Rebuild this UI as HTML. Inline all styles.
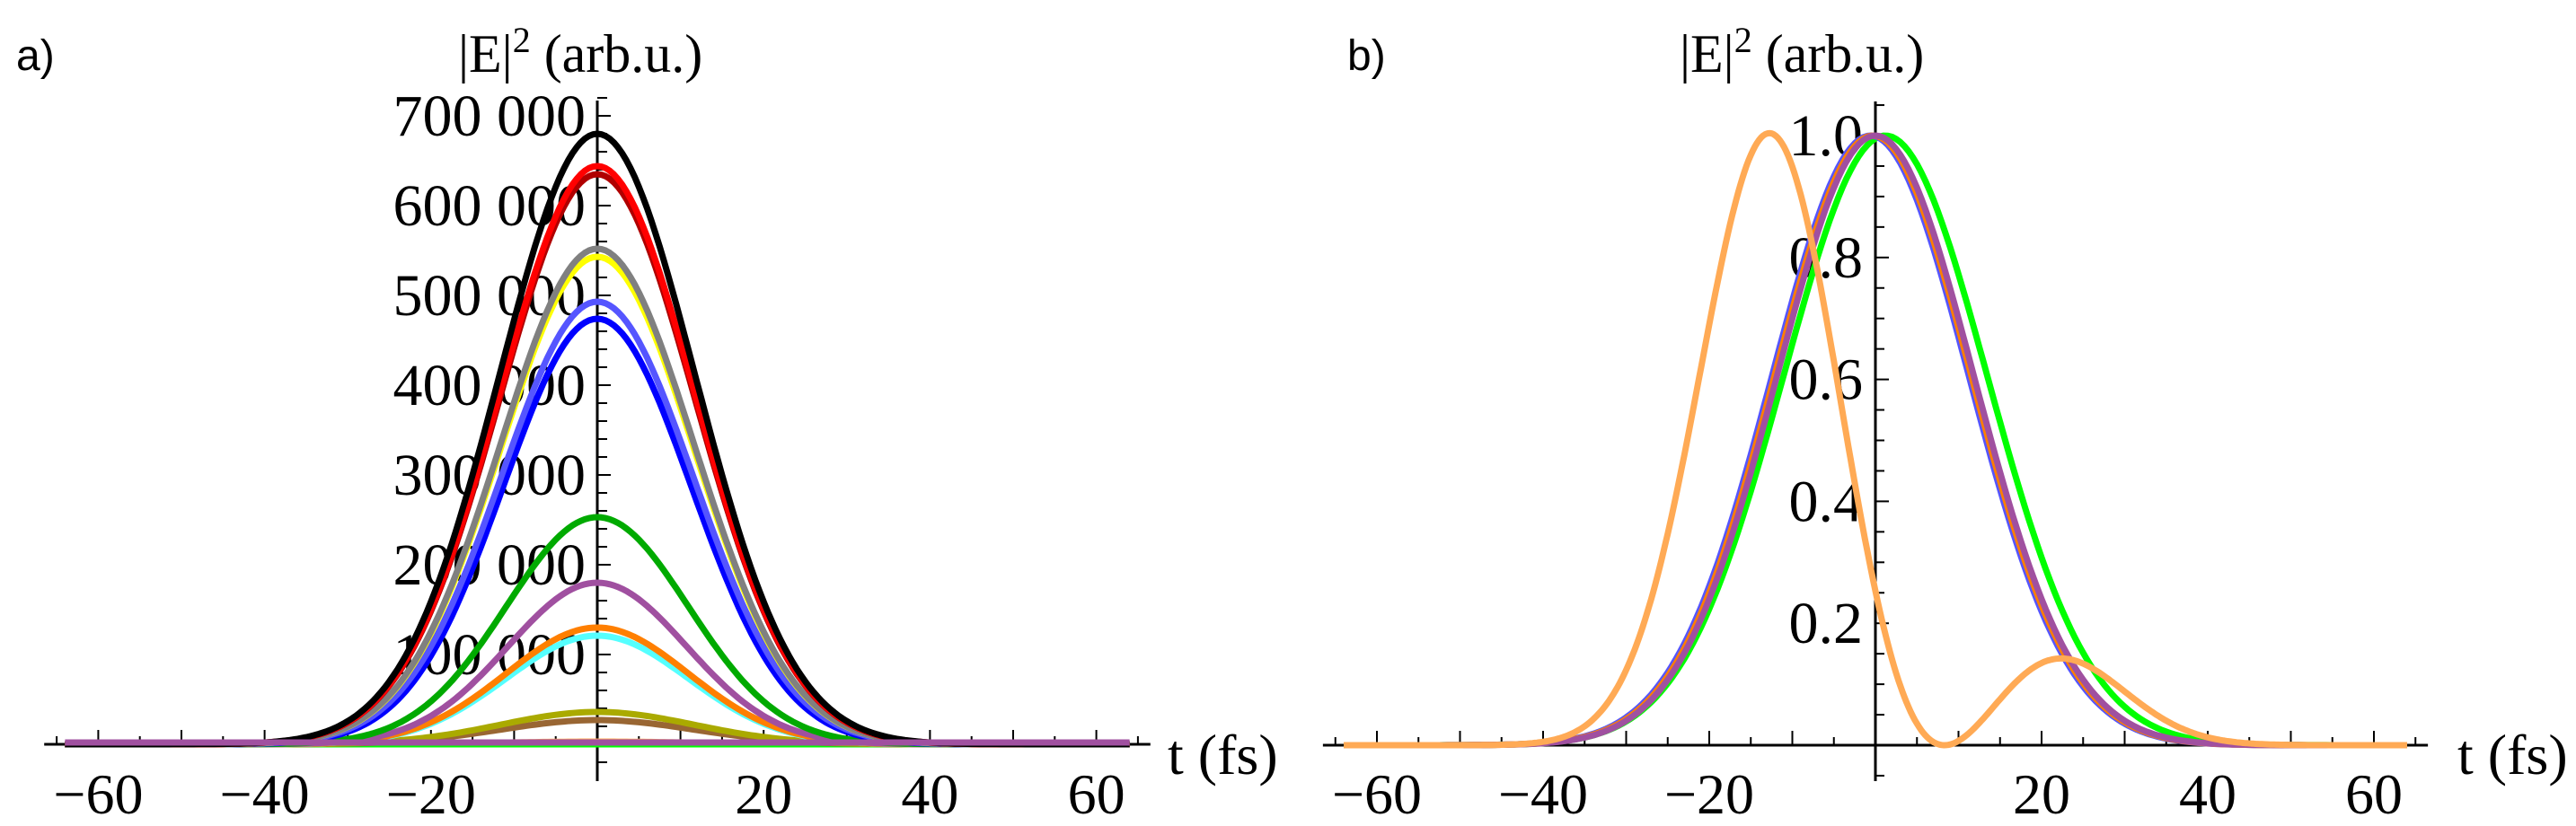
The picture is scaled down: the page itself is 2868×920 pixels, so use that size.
<!DOCTYPE html>
<html><head><meta charset="utf-8"><style>
body{margin:0;background:#fff;}
svg{display:block;}
text{font-family:"Liberation Serif",serif;fill:#000;}
</style></head><body>
<svg id="chart" width="2868" height="920" viewBox="0 0 2868 920" xmlns="http://www.w3.org/2000/svg">
<text x="18" y="78" font-size="48" style="font-family:'Liberation Sans',sans-serif">a)</text>
<text x="1500" y="78" font-size="48" style="font-family:'Liberation Sans',sans-serif">b)</text>
<text x="510" y="80" font-size="60" style="font-family:'Liberation Serif',serif">|E|<tspan dy="-22" font-size="40">2</tspan><tspan dy="22"> (arb.u.)</tspan></text>
<text x="1870" y="80" font-size="60" style="font-family:'Liberation Serif',serif">|E|<tspan dy="-22" font-size="40">2</tspan><tspan dy="22"> (arb.u.)</tspan></text>
<text x="1300" y="862" font-size="64">t (fs)</text>
<text x="2736" y="862" font-size="64">t (fs)</text>
<g id="pa"></g>
<g id="pb"></g>
</svg>
<script>
var aNames=["lightorange","flatgreen","brown","olive","cyan","orange","purple","green","blue","lightblue","yellow","gray","darkred","red","black"];
var aColors=["#ffaa55","#00ff00","#996633","#aaaa00","#55ffff","#ff7f00","#a050a0","#00aa00","#0000ff","#5555ff","#ffff00","#808080","#b00000","#ff0000","#000000"];
var aPeaks=[3000,0,27000,36000,121000,130000,180000,253000,474000,493000,543000,552000,635000,644000,680000];
var aWidths=[270,270,270,270,240,240,230,240,255,265,270,270,275,275,275];
var xTicks=[-60,-40,-20,20,40,60];
var aYTicks=[100000,200000,300000,400000,500000,600000,700000];
var aYLabels=["100 000","200 000","300 000","400 000","500 000","600 000","700 000"];
var bNames=["green","blue","darkorange","purple"];
var bColors=["#00ff00","#5555ff","#ff7f00","#a050a0"];
var bCenters=[1.2,-0.6,-0.3,0];
var bWidths=[300,280,280,280];
var bOrangeCenters=[-12.5,21];
var bOrangeAmps=[1.01,0.395];
var bOrangeWidth=290;
var bYTicks=[0.2,0.4,0.6,0.8,1.0];
var bYLabels=["0.2","0.4","0.6","0.8","1.0"];

var NS="http://www.w3.org/2000/svg";
function mk(p,tag,at){var e=document.createElementNS(NS,tag);for(var k in at){e.setAttribute(k,String(at[k]));}p.appendChild(e);return e;}

function drawAxes(g,x0,sx,y0,yTop,yBot){
  function xs(t){return x0+t*sx;}
  var l=mk(g,"line",{x1:xs(-66.5),x2:xs(66.5),y1:y0,y2:y0,stroke:"#000","stroke-width":3});
  
  
  var l2=mk(g,"line",{x1:x0,x2:x0,y1:yTop,y2:yBot,stroke:"#000","stroke-width":3});
  
  
  for(var t=-65;t<=65;t+=5){if(t===0)continue;var maj=(t%10===0);
    var k=mk(g,"line",{x1:xs(t),x2:xs(t),y1:y0,y2:y0-(maj?16:9),stroke:"#000","stroke-width":2});
    
    }
  for(var i=0;i<xTicks.length;i++){var v=xTicks[i];
    var tx=mk(g,"text",{x:xs(v),y:906,"font-size":64,"text-anchor":"middle"});
    tx.textContent=(v<0?"\u2212":"")+Math.abs(v);
    
    }
}
function drawLine(g,pts,color,name){
  var d="";for(var i=0;i<pts.length;i++){d+=(i?"L":"M")+pts[i][0].toFixed(1)+","+pts[i][1].toFixed(1);}
  var p=mk(g,"path",{d:d,fill:"none",stroke:color,"stroke-width":7,"stroke-linejoin":"round"});
  
  
}
try{
  var ga=document.getElementById("pa");
  var ax0=665,asx=9.26,ay0=829;
  function axs(t){return ax0+t*asx;}
  function ays(v){return ay0-v/1000;}
  drawAxes(ga,ax0,asx,ay0,112,870);
  for(var v=-20000;v<=720000;v+=20000){if(v===0)continue;var maj=(v%100000===0);
    var k=mk(ga,"line",{x1:ax0,x2:ax0+(maj?15:11),y1:ays(v),y2:ays(v),stroke:"#000","stroke-width":2});
    
    }
  for(var i=0;i<aYTicks.length;i++){
    var tl=mk(ga,"text",{x:652,y:ays(aYTicks[i])+22,"font-size":66,"text-anchor":"end"});
    tl.textContent=aYLabels[i];
    
    }
  for(var i=0;i<aPeaks.length;i++){var pts=[];
    for(var t=-64;t<=64.01;t+=0.5){pts.push([axs(t),ays(aPeaks[i]*Math.exp(-t*t/aWidths[i]))]);}
    drawLine(ga,pts,aColors[i],"curve-"+aNames[i]);}
  var fl=[];for(var t=-64;t<=64.01;t+=1){fl.push([axs(t),ay0-2]);}
  drawLine(ga,fl,"#a050a0","curve-flat-purple");
}catch(e){}
try{
  var gb=document.getElementById("pb");
  var bx0=2088,bsx=9.25,by0=830;
  function bxs(t){return bx0+t*bsx;}
  function bys(v){return by0-v*679;}
  drawAxes(gb,bx0,bsx,by0,113,870);
  for(var r=-5;r<=105;r+=5){if(r===0)continue;var maj=(r%20===0);
    var k=mk(gb,"line",{x1:bx0,x2:bx0+(maj?15:10),y1:bys(r/100),y2:bys(r/100),stroke:"#000","stroke-width":2});
    
    }
  for(var i=0;i<bYTicks.length;i++){
    var tl=mk(gb,"text",{x:2074,y:bys(bYTicks[i])+22,"font-size":66,"text-anchor":"end"});
    tl.textContent=bYLabels[i];
    
    }
  for(var i=0;i<bCenters.length;i++){var pts=[];
    for(var t=-64;t<=64.01;t+=0.5){var dt=t-bCenters[i];pts.push([bxs(t),bys(Math.exp(-dt*dt/bWidths[i]))]);}
    drawLine(gb,pts,bColors[i],"curve-"+bNames[i]);}
  var o=[];
  for(var t=-64;t<=64.01;t+=0.25){
    var d1=t-bOrangeCenters[0],d2=t-bOrangeCenters[1];
    var e=bOrangeAmps[0]*Math.exp(-d1*d1/bOrangeWidth)-bOrangeAmps[1]*Math.exp(-d2*d2/bOrangeWidth);
    o.push([bxs(t),bys(e*e)]);}
  drawLine(gb,o,"#ffaa55","curve-lightorange");
}catch(e){}
</script>
</body></html>
